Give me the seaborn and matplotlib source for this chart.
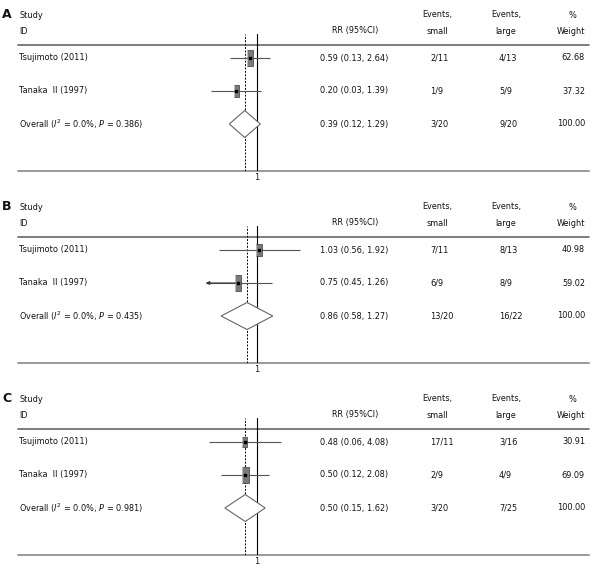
import numpy as np
import pandas as pd
import matplotlib
matplotlib.use("Agg")
import matplotlib.pyplot as plt
import seaborn as sns

studies = ["Tsujimoto (2011)", "Tanaka  II (1997)"]

# panel A
rr_a = [0.59, 0.20]
low_a = [0.13, 0.03]
high_a = [2.64, 1.39]
overall_a = [0.39, 0.12, 1.29]
p_a = "0.386"
small_a = ["2/11", "1/9", "3/20"]
large_a = ["4/13", "5/9", "9/20"]
weight_a = [62.68, 37.32, 100.00]

# panel B
rr_b = [1.03, 0.75]
low_b = [0.56, 0.45]
high_b = [1.92, 1.26]
overall_b = [0.86, 0.58, 1.27]
p_b = "0.435"
small_b = ["7/11", "6/9", "13/20"]
large_b = ["8/13", "8/9", "16/22"]
weight_b = [40.98, 59.02, 100.00]

# panel C
rr_c = [0.48, 0.50]
low_c = [0.06, 0.12]
high_c = [4.08, 2.08]
overall_c = [0.50, 0.15, 1.62]
p_c = "0.981"
small_c = ["17/11", "2/9", "3/20"]
large_c = ["3/16", "4/9", "7/25"]
weight_c = [30.91, 69.09, 100.00]

i2 = "0.0%"

sns.set_theme(style="white")
plt.rcParams["font.family"] = ["DejaVu Sans"]
plt.rcParams["mathtext.fontset"] = "dejavusans"
plt.rcParams["text.color"] = "#111111"

W, H = 600, 574
fig = plt.figure(figsize=(6, 5.74), dpi=100)
bg = fig.add_axes([0, 0, 1, 1])
bg.set_xlim(0, W)
bg.set_ylim(H, 0)
bg.axis("off")

fs = 5.9
null_px = 257
row0, row_step = 13, 33
box_verts = [(-0.21, -0.5), (0.21, -0.5), (0.21, 0.5), (-0.21, 0.5)]


def draw_panel(letter, T, rr, low, high, overall, p_val, small, large, weight, xr, scale):
    # header
    bg.text(2, T - 30, letter, fontsize=9, fontweight="bold", va="center")
    bg.text(19, T - 30, "Study", fontsize=fs, va="center")
    bg.text(19, T - 14, "ID", fontsize=fs, va="center")
    bg.text(355, T - 14, "RR (95%CI)", fontsize=fs, va="center", ha="center")
    bg.text(437, T - 30, "Events,", fontsize=fs, va="center", ha="center")
    bg.text(437, T - 14, "small", fontsize=fs, va="center", ha="center")
    bg.text(506, T - 30, "Events,", fontsize=fs, va="center", ha="center")
    bg.text(506, T - 14, "large", fontsize=fs, va="center", ha="center")
    bg.text(572, T - 30, "%", fontsize=fs, va="center", ha="center")
    bg.text(585, T - 14, "Weight", fontsize=fs, va="center", ha="right")
    bg.plot([18, 589], [T, T], color="#666666", lw=1.2)
    bg.plot([18, 589], [T + 126, T + 126], color="#999999", lw=1.4)

    # table rows
    labels = studies + [rf"Overall ($\mathit{{I}}^2$ = {i2}, $\mathit{{P}}$ = {p_val})"]
    ests = list(rr) + [overall[0]]
    los = list(low) + [overall[1]]
    his = list(high) + [overall[2]]
    for i, lab in enumerate(labels):
        y = T + row0 + row_step * i
        bg.text(19, y, lab, fontsize=fs, va="center")
        bg.text(320, y, f"{ests[i]:.2f} ({los[i]:.2f}, {his[i]:.2f})", fontsize=fs, va="center")
        bg.text(430, y, small[i], fontsize=fs, va="center")
        bg.text(499, y, large[i], fontsize=fs, va="center")
        bg.text(585, y, f"{weight[i]:.2f}", fontsize=fs, va="center", ha="right")

    # forest axes
    left = null_px + np.log10(xr[0]) * scale
    right = null_px + np.log10(xr[1]) * scale
    ax = fig.add_axes([left / W, 1 - (T + 126) / H, (right - left) / W, 137 / H])
    ax.set_xscale("log")

    rows = np.arange(len(rr))
    lo_clip = np.maximum(low, xr[0])
    ax.hlines(rows, lo_clip, high, color="#555555", lw=0.8, zorder=2)
    for r, lo, est in zip(rows, low, rr):
        if lo < xr[0]:
            ax.annotate("", xy=(xr[0], r), xytext=(est, r),
                        arrowprops=dict(arrowstyle="-|>", color="#333333", lw=0.8,
                                        mutation_scale=5, shrinkA=0, shrinkB=0))

    df = pd.DataFrame({"rr": rr, "row": rows, "w": weight[:len(rr)]})
    sns.scatterplot(data=df, x="rr", y="row", size="w", sizes=(0, 200), size_norm=(0, 100),
                    marker=box_verts, color="#7a7a7a", edgecolor="#3a3a3a", linewidth=0.5,
                    legend=False, ax=ax, zorder=3)
    ax.scatter(rr, rows, s=1.2, marker="s", color="black", zorder=4)

    # diamond for overall
    r = len(rr)
    h = 13.5 / row_step
    ax.fill([overall[1], overall[0], overall[2], overall[0]], [r, r - h, r, r + h],
            facecolor="white", edgecolor="#666666", lw=0.8, zorder=3)

    ax.axvline(1, color="black", lw=0.8, zorder=1)
    ax.axvline(overall[0], color="black", lw=0.7, ls=(0, (2, 1.5)), zorder=1)

    ax.set_xlim(*xr)
    ax.set_ylim((126 - row0) / row_step, (-11 - row0) / row_step)
    ax.text(1, (133 - row0) / row_step, "1", fontsize=fs, ha="center", va="center", clip_on=False)
    ax.axis("off")


draw_panel("A", 45, rr_a, low_a, high_a, overall_a, p_a, small_a, large_a, weight_a, (0.03, 33.3), 30)
draw_panel("B", 237, rr_b, low_b, high_b, overall_b, p_b, small_b, large_b, weight_b, (0.46, 2.17), 152)
draw_panel("C", 429, rr_c, low_c, high_c, overall_c, p_c, small_c, large_c, weight_c, (0.06, 16.7), 39)

fig.savefig("out.png", dpi=100, facecolor="white")
